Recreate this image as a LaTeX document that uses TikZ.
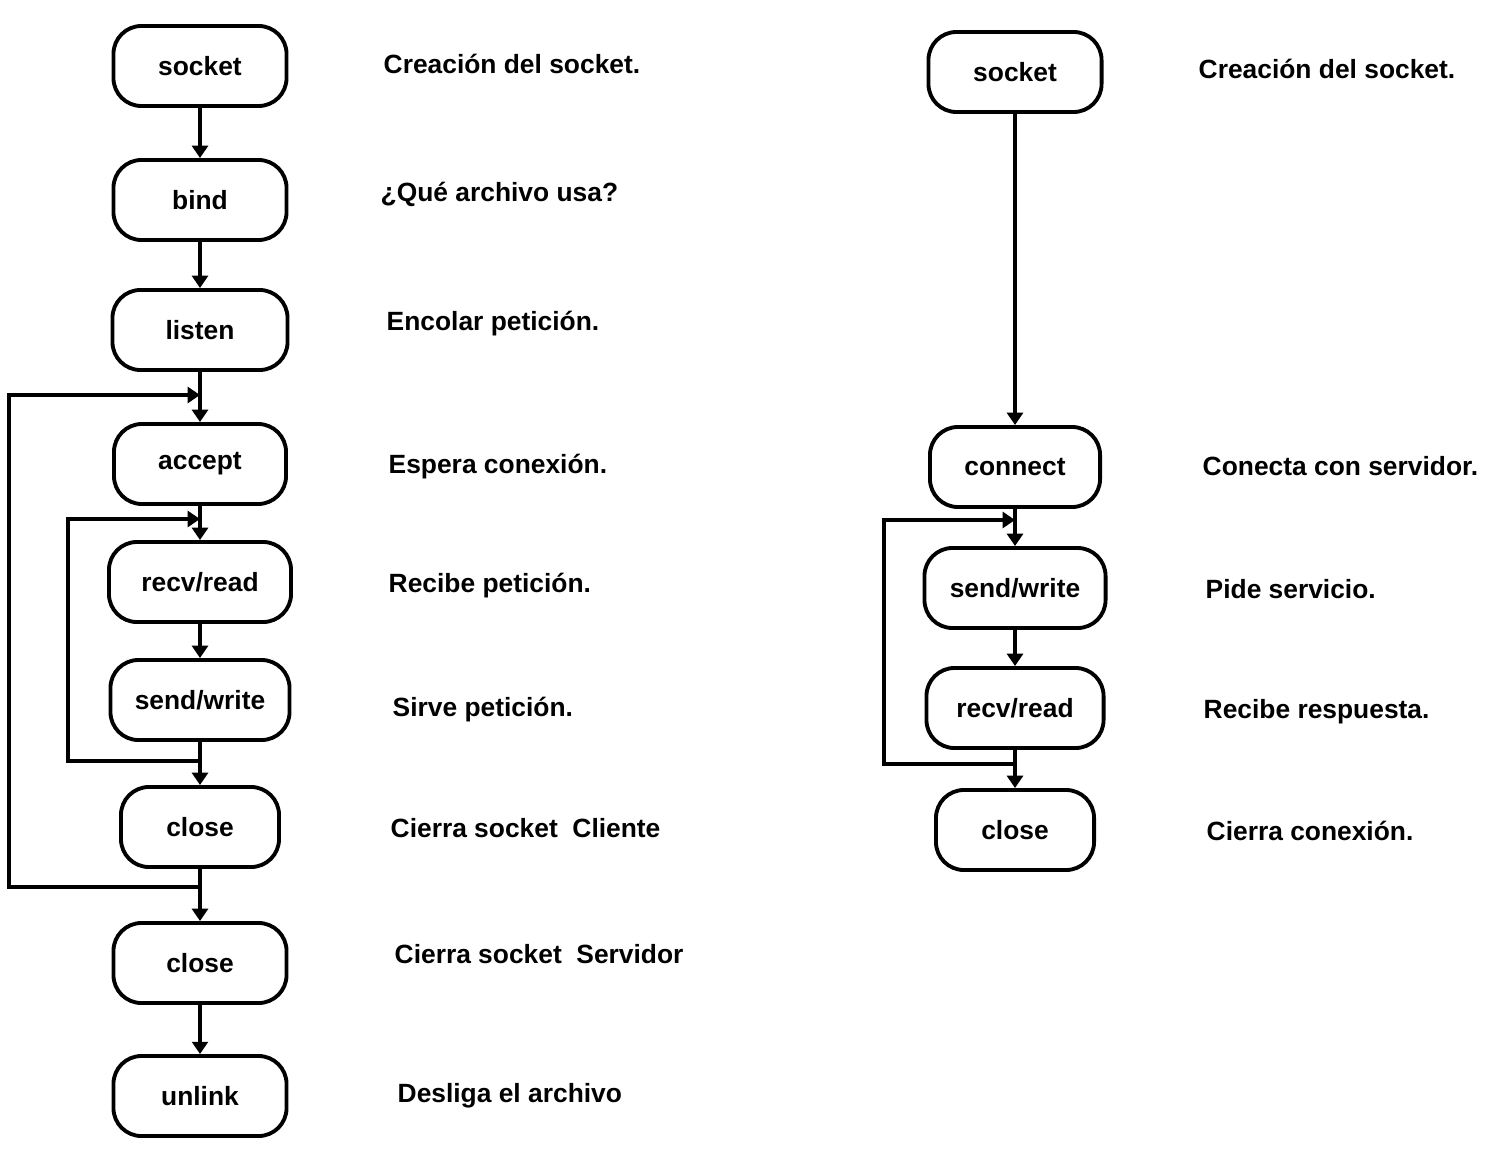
\documentclass[tikz,border=0pt]{standalone}
\usepackage{fontspec}
\setmainfont{Liberation Sans}
\usepackage{tikz}
\usetikzlibrary{arrows.meta}
\definecolor{ink}{HTML}{000000}
\tikzset{
  stepbox/.style={draw=ink, line width=1.1pt, rounded corners=0.28cm, minimum height=0.8cm,
    minimum width=#1, inner sep=0pt, font=\bfseries\fontsize{7.5}{9}\selectfont},
  stepbox/.default=1.73cm,
  flow/.style={draw=ink, line width=1.1pt, -{Triangle[width=4.5pt,length=3.5pt]}},
  note/.style={anchor=west, inner sep=0pt, font=\bfseries\fontsize{7.5}{9}\selectfont},
}

\begin{document}
\begin{tikzpicture}[x=0.01cm,y=-0.01cm]
  \fill[white] (0,0) rectangle (1492,1152);
  \useasboundingbox (0,0) rectangle (1492,1152);
  % servidor
  \foreach \n/\t/\y/\w in {s1/socket/66/1.73cm, s2/bind/200/1.73cm, s3/listen/330/1.75cm,
      s4/accept/464/1.72cm, s5/{recv/read}/582/1.82cm, s6/{send/write}/700/1.79cm,
      s7/close/827/1.58cm, s8/close/963/1.73cm, s9/unlink/1096/1.73cm}
    \node[stepbox=\w] (\n) at (200,\y) {\t};
  \foreach \a/\b in {s1/s2,s2/s3,s3/s4,s4/s5,s5/s6,s6/s7,s7/s8,s8/s9}
    \draw[flow] (\a) -- (\b);
  \foreach \n/\t/\x/\y in {n1/{Creación del socket.}/383/64, n2/{¿Qué archivo usa?}/380/194,
      n3/{Encolar petición.}/386/324, n4/{Espera conexión.}/388/467,
      n5/{Recibe petición.}/388/586, n6/{Sirve petición.}/392/710,
      n7/{Cierra socket\ \ Cliente}/390/828, n8/{Cierra socket\ \ Servidor}/394/954,
      n9/{Desliga el archivo}/397/1096}
    \node[note] (\n) at (\x,\y) {\t};
  \coordinate (in1) at (200,519);
  \coordinate (out1) at (200,761);
  \coordinate (in2) at (200,395);
  \coordinate (out2) at (200,887);
  \draw[flow] (out1) -- ++(-132,0) |- (in1);
  \draw[flow] (out2) -- ++(-191,0) |- (in2);
  % cliente
  \foreach \n/\t/\y/\w in {c1/socket/72/1.73cm, c2/connect/467/1.70cm,
      c3/{send/write}/588/1.81cm, c4/{recv/read}/708/1.77cm, c5/close/830/1.58cm}
    \node[stepbox=\w] (\n) at (1015,\y) {\t};
  \foreach \a/\b in {c1/c2,c2/c3,c3/c4,c4/c5}
    \draw[flow] (\a) -- (\b);
  \foreach \n/\t/\x/\y in {m1/{Creación del socket.}/1198/69, m2/{Conecta con servidor.}/1202/466,
      m3/{Pide servicio.}/1205/589, m4/{Recibe respuesta.}/1203/712,
      m5/{Cierra conexión.}/1206/831}
    \node[note] (\n) at (\x,\y) {\t};
  \coordinate (in3) at (1015,520);
  \coordinate (out3) at (1015,764);
  \draw[flow] (out3) -- ++(-131,0) |- (in3);
\end{tikzpicture}
\end{document}
